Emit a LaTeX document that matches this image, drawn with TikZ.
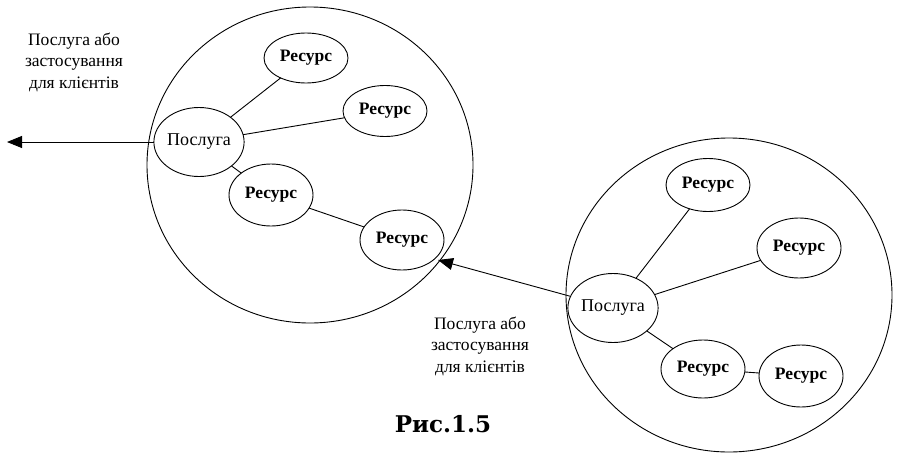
\documentclass[tikz,border=0pt]{standalone}
\usepackage{fontspec}
\setmainfont{Liberation Serif}
\newfontfamily\capfont{DejaVu Serif}
\usetikzlibrary{arrows.meta,shapes.geometric}
\begin{document}
\begin{tikzpicture}[x=1pt,y=-1pt,
  every node/.style={inner sep=0pt,outer sep=0pt},
  res/.style={draw,ellipse,line width=0.9pt,minimum width=84pt,minimum height=56pt,font=\fontsize{17.5}{20}\selectfont\bfseries},
  srv/.style={draw,ellipse,line width=0.9pt,minimum width=90pt,minimum height=69pt,font=\fontsize{18}{20}\selectfont},
  link/.style={line width=0.9pt},
  outarrow/.style={line width=0.9pt,-{Triangle[length=15pt,width=12pt]}},
  lbl/.style={align=center,font=\fontsize{17.5}{21.5}\selectfont},
  big/.style={draw,line width=0.9pt}]
\useasboundingbox (0,0) rectangle (898,453);
% big circles
\draw[big] (310,165) ellipse [x radius=163, y radius=158];
\draw[big] (729,295) ellipse [x radius=163, y radius=157];
% left group
\node[res,minimum height=50pt] (L1) at (306,58) {Ресурс};
\node[res,minimum height=51pt] (L2) at (385,111) {Ресурс};
\node[srv] (LP) at (199,142) {Послуга};
\node[res,minimum height=62pt] (L3) at (271,195) {Ресурс};
\node[res,minimum height=60pt] (L4) at (402,240) {Ресурс};
\draw[link] (LP) -- (L1);
\draw[link] (LP) -- (L2);
\draw[link] (LP) -- (L3);
\draw[link] (L3) -- (L4);
% right group
\node[res,minimum height=53pt] (R1) at (708,185) {Ресурс};
\node[res,minimum height=60pt] (R2) at (799,248) {Ресурс};
\node[srv] (RP) at (613,308) {Послуга};
\node[res,minimum height=58pt] (R3) at (703,369) {Ресурс};
\node[res,minimum height=62pt] (R4) at (801,376) {Ресурс};
\draw[link] (RP) -- (R1);
\draw[link] (RP) -- (R2);
\draw[link] (RP) -- (R3);
\draw[link] (R3) -- (R4);
% output arrows
\coordinate (A1) at (7,142);
\coordinate (A2) at (438,260);
\draw[outarrow] (LP.west) -- (A1);
\draw[outarrow] (RP) -- (A2);
% labels
\node[lbl] (T1) at (74,62) {Послуга або\\застосування\\для клієнтів};
\node[lbl] (T2) at (480,346) {Послуга або\\застосування\\для клієнтів};
\node[font=\capfont\bfseries\fontsize{23}{26}\selectfont] (C) at (443,424) {Рис.1.5};
\end{tikzpicture}
\end{document}
